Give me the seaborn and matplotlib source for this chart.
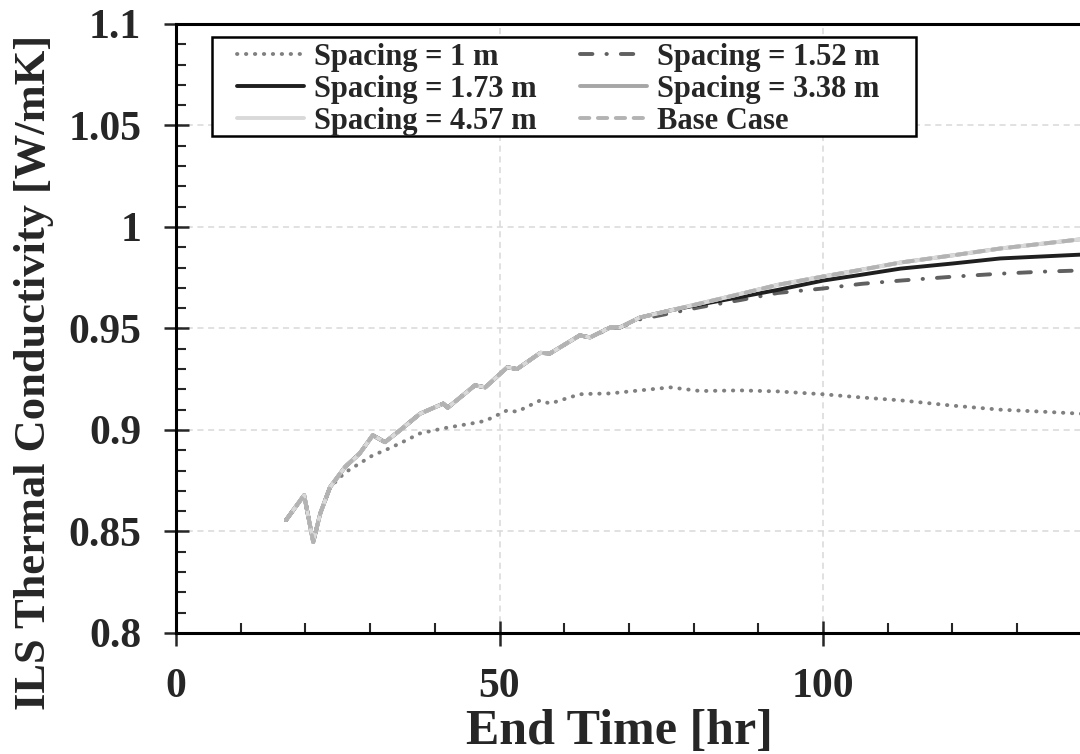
import numpy as np
import pandas as pd
import seaborn as sns
import matplotlib.pyplot as plt
from matplotlib.ticker import MultipleLocator
from matplotlib.patches import Rectangle

# end time [hr]
end_time = [17.0, 19.8, 21.2, 22.3, 23.8, 26.1, 28.4, 30.4, 32.3, 34.6, 37.7, 41.3, 42.0,
             46.2, 47.8, 51.2, 52.7, 56.3, 57.8, 62.4, 64.0, 67.1, 68.6, 71.7, 76.4, 81.0,
             87.2, 93.0, 100.0, 106.0, 112.0, 120.0, 127.4, 134.0, 140.0, 146.0, 150.0]

# ILS thermal conductivity [W/mK]
base_case = [0.8556, 0.8679, 0.8448, 0.8590, 0.8718, 0.8817, 0.8885, 0.8974, 0.8940, 0.8998,
             0.9080, 0.9130, 0.9110, 0.9220, 0.9210, 0.9309, 0.9300, 0.9380, 0.9377, 0.9466,
             0.9456, 0.9505, 0.9505, 0.9554, 0.9589, 0.9623, 0.9670, 0.9715, 0.9756, 0.9790,
             0.9825, 0.9860, 0.9894, 0.9918, 0.9940, 0.9960, 0.9975]
sp_457 = base_case
sp_338 = base_case
sp_173 = [0.8556, 0.8679, 0.8448, 0.8590, 0.8718, 0.8817, 0.8885, 0.8974, 0.8940, 0.8998,
          0.9080, 0.9130, 0.9110, 0.9220, 0.9210, 0.9309, 0.9300, 0.9380, 0.9377, 0.9466,
          0.9456, 0.9505, 0.9505, 0.9554, 0.9589, 0.9618, 0.9655, 0.9690, 0.9736, 0.9765,
          0.9795, 0.9820, 0.9845, 0.9855, 0.9864, 0.9880, 0.9890]
sp_152 = [0.8556, 0.8679, 0.8448, 0.8590, 0.8718, 0.8817, 0.8885, 0.8974, 0.8940, 0.8998,
          0.9080, 0.9130, 0.9110, 0.9220, 0.9210, 0.9309, 0.9300, 0.9380, 0.9377, 0.9466,
          0.9456, 0.9500, 0.9505, 0.9545, 0.9575, 0.9605, 0.9640, 0.9675, 0.9697, 0.9720,
          0.9736, 0.9755, 0.9770, 0.9780, 0.9786, 0.9795, 0.9800]
sp_1 = [0.8556, 0.8679, 0.8448, 0.8590, 0.8718, 0.8790, 0.8836, 0.8875, 0.8900, 0.8934,
        0.8983, 0.9008, 0.9012, 0.9035, 0.9045, 0.9097, 0.9090, 0.9146, 0.9130, 0.9176,
        0.9178, 0.9180, 0.9185, 0.9195, 0.9210, 0.9192, 0.9195, 0.9190, 0.9176, 0.9160,
        0.9146, 0.9120, 0.9100, 0.9090, 0.9080, 0.9070, 0.9060]

labels = ["Spacing = 1 m", "Spacing = 1.52 m", "Spacing = 1.73 m",
          "Spacing = 3.38 m", "Spacing = 4.57 m", "Base Case"]
series = [sp_1, sp_152, sp_173, sp_338, sp_457, base_case]
colors = ["#808080", "#606060", "#1f1f1f", "#a6a6a6", "#d9d9d9", "#b3b3b3"]
styles = [(0, (0.1, 2.2)), (0, (3.2, 3.6, 0.1, 3.6)), "-", "-", "-", (0, (2.4, 2.2))]

sns.set_theme(style="white")
plt.rcParams["font.family"] = ["Liberation Serif", "DejaVu Serif"]
plt.rcParams["font.weight"] = "bold"

fig = plt.figure(figsize=(10.8, 7.54), dpi=100)
# axes run a little past the right edge, like the cropped original
ax = fig.add_axes([0.163, 0.1605, 0.8387, 0.8077])

handles = {}
for lab, vals, c, ls in zip(labels, series, colors, styles):
    df = pd.DataFrame({"t": end_time, "k": vals})
    sns.lineplot(data=df, x="t", y="k", ax=ax, color=c, linestyle=ls, linewidth=2.8,
                 label=lab, legend=False, dash_capstyle="round", solid_capstyle="round")
    handles[lab] = ax.lines[-1]

ax.set_xlim(0, 140)
ax.set_ylim(0.8, 1.1)
ax.xaxis.set_major_locator(MultipleLocator(50))
ax.xaxis.set_minor_locator(MultipleLocator(10))
ax.yaxis.set_minor_locator(MultipleLocator(0.01))
ax.set_yticks([0.8, 0.85, 0.9, 0.95, 1.0, 1.05, 1.1])
ax.set_yticklabels(["0.8", "0.85", "0.9", "0.95", "1", "1.05", "1.1"])

ax.grid(True, which="major", color="#d9d9d9", linestyle=(0, (4, 3)), linewidth=1.1)
ax.tick_params(which="major", direction="inout", length=18, width=1.8, labelsize=30,
               pad=16)
ax.tick_params(which="minor", direction="in", length=7, width=1.5)
ax.tick_params(axis="both", which="both", bottom=True, left=True)
for s in ax.spines.values():
    s.set_linewidth(2.2)
    s.set_color("black")

ax.set_xlabel("End Time [hr]", fontsize=36, fontweight="bold")
ax.set_ylabel("ILS Thermal Conductivity [W/mK]", fontsize=32, fontweight="bold")
ax.xaxis.set_label_coords(0.49, -0.125)
ax.yaxis.set_label_coords(-0.135, 0.4286)

order = [labels[0], labels[2], labels[4], labels[1], labels[3], labels[5]]
leg = ax.legend([handles[l] for l in order], order, ncol=2, loc="upper left",
                bbox_to_anchor=(0.0607, 0.979), fontsize=22, frameon=False,
                borderaxespad=0, handlelength=2.2, handletextpad=0.3,
                columnspacing=1.44, labelspacing=0.1, borderpad=0.2)
leg.set_zorder(5)
# legend box drawn separately (wider side padding than legend borderpad allows)
frame = Rectangle((0.0397, 0.8161), 0.817 - 0.0397, 0.9787 - 0.8161,
                  transform=ax.transAxes, facecolor="white", edgecolor="black",
                  linewidth=1.8, zorder=4)
ax.add_patch(frame)

fig.savefig("out.png", dpi=100)
